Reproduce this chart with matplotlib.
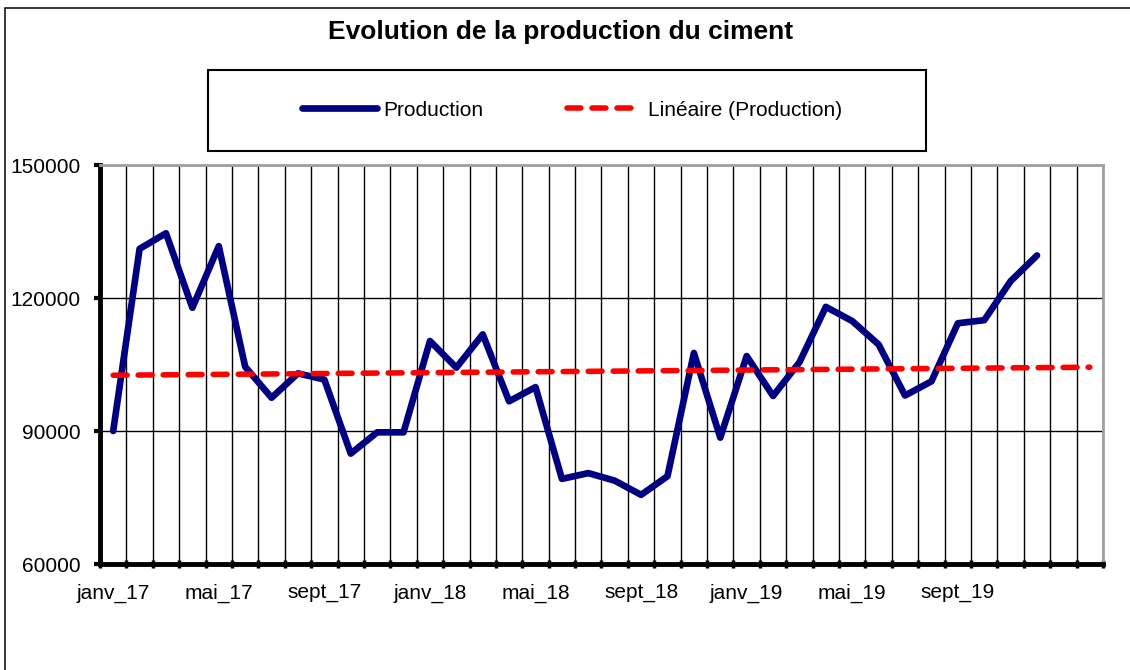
import numpy as np
import matplotlib
matplotlib.use('Agg')
import matplotlib.pyplot as plt
from matplotlib.patches import Rectangle

# --- Données : production mensuelle de ciment (janv_17 à déc_19) ---
mois = ['janv', 'févr', 'mars', 'avr', 'mai', 'juin',
        'juil', 'août', 'sept', 'oct', 'nov', 'déc']
annees = ['17', '18', '19']
categories = [f'{m}_{a}' for a in annees for m in mois]

production = [90000, 131100, 134600, 117800, 131700, 104500,
              97500, 103000, 101600, 84900, 89700, 89700,
              110300, 104300, 111800, 96700, 99900, 79200,
              80500, 78800, 75600, 79800, 107600, 88500,
              106900, 97900, 105500, 118000, 114800, 109500,
              98000, 101200, 114300, 115000, 123800, 129600]

# Tendance linéaire prolongée de 2 périodes (comme dans Excel)
periodes_prevision = 2
yticks = [60000, 90000, 120000, 150000]

plt.rcParams['font.family'] = ['Liberation Sans', 'DejaVu Sans']

W, H = 1130, 670
fig = plt.figure(figsize=(W / 100, H / 100), dpi=100)

# Axe principal (coordonnées en pixels converties en fractions)
ax = fig.add_axes([100 / W, 1 - 564 / H, (1103 - 100) / W, (564 - 165) / H])

x = np.arange(len(production))
n_total = len(production) + periodes_prevision

# Droite de régression sur les données
pente, origine = np.polyfit(x, production, 1)
x_tend = np.arange(n_total)
tendance = pente * x_tend + origine

ax.plot(x, production, color='#000080', lw=4.8, solid_capstyle='round',
        solid_joinstyle='round', label='Production', zorder=3)
ax.plot(x_tend, tendance, color='red', lw=4.0, dashes=(2.5, 2.0),
        dash_capstyle='round', label='Linéaire (Production)', zorder=4)

ax.set_xlim(-0.5, n_total - 0.5)
ax.set_ylim(yticks[0], yticks[-1])

# Étiquettes de l'axe X : un mois sur quatre
ax.set_xticks(x[::4])
ax.set_xticklabels(categories[::4])
ax.tick_params(axis='x', which='major', length=0, pad=14, labelsize=15)

# Quadrillage vertical entre les catégories
ax.set_xticks(np.arange(n_total + 1) - 0.5, minor=True)
ax.tick_params(axis='x', which='minor', direction='inout', length=6, width=2.5)
ax.grid(True, which='minor', axis='x', color='black', lw=1)

ax.set_yticks(yticks)
ax.tick_params(axis='y', direction='out', length=4, width=3, pad=10, labelsize=15)
ax.grid(True, which='major', axis='y', color='black', lw=1)
ax.set_axisbelow(True)

for cote in ['left', 'bottom']:
    ax.spines[cote].set_linewidth(3.5)
    ax.spines[cote].set_color('black')
for cote in ['top', 'right']:
    ax.spines[cote].set_linewidth(2)
    ax.spines[cote].set_color('#a0a0a0')

# Titre
fig.text(561 / W, 1 - 32 / H, 'Evolution de la production du ciment',
         ha='center', va='center', fontsize=19, fontweight='bold')

# Cadre de la légende
fig.add_artist(Rectangle((208 / W, 1 - 151 / H), (926 - 208) / W, (151 - 70) / H,
                         transform=fig.transFigure, fill=False, ec='black', lw=1.5))
fig.legend(loc='center', bbox_to_anchor=(572 / W, 1 - 110 / H), ncol=2,
           frameon=False, fontsize=15, handlelength=3.6, handletextpad=0.3,
           columnspacing=4.0)

# Cadre général du graphique
fig.add_artist(Rectangle((5 / W, -0.1), 1.2, 1 - 8 / H + 0.1,
                         transform=fig.transFigure, fill=False, ec='black', lw=1.1))

plt.savefig('out.png', dpi=100)
